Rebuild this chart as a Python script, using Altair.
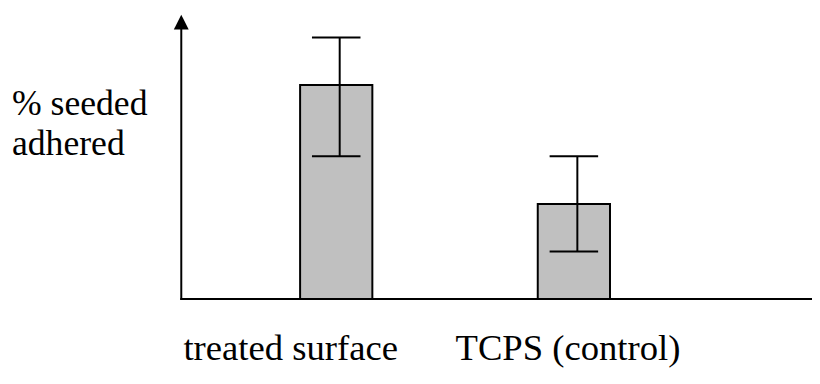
import altair as alt
import pandas as pd

categories = ["treated surface", "TCPS (control)"]
means = [75.3, 33.4]
err_low = [50.2, 16.7]
err_high = [92.0, 50.2]
y_title_lines = ["% seeded", "adhered"]

df = pd.DataFrame({"cat": categories, "mean": means, "lo": err_low, "hi": err_high})
one = pd.DataFrame({"a": [0]})

FONT = "Liberation Serif"
W, H = 637, 287

xscale = alt.Scale(domain=categories, range=[0, 553], paddingInner=0.696, paddingOuter=0.5)
yscale = alt.Scale(domain=[0, 100], nice=False, zero=True)

base = alt.Chart(df)

bars = base.mark_bar(fill="#c0c0c0", stroke="black", strokeWidth=2).encode(
    x=alt.X("cat:N", scale=xscale, axis=None, sort=categories),
    y=alt.Y("mean:Q", scale=yscale, axis=None),
)

err = base.mark_rule(color="black", strokeWidth=2).encode(
    x=alt.X("cat:N", bandPosition=0.548, sort=categories),
    y="lo:Q",
    y2="hi:Q",
)

cap_hi = base.mark_tick(color="black", thickness=2, size=49, orient="horizontal", opacity=1).encode(
    x=alt.X("cat:N", bandPosition=0.548, sort=categories),
    y="hi:Q",
)
cap_lo = base.mark_tick(color="black", thickness=2, size=49, orient="horizontal", opacity=1).encode(
    x=alt.X("cat:N", bandPosition=0.548, sort=categories),
    y="lo:Q",
)

yaxis = alt.Chart(one).mark_rule(color="black", strokeWidth=2).encode(
    x=alt.value(0), y=alt.value(14), y2=alt.value(H + 1)
)
xaxis = alt.Chart(one).mark_rule(color="black", strokeWidth=2).encode(
    x=alt.value(-1), x2=alt.value(W), y=alt.value(H)
)
arrow = alt.Chart(one).mark_point(
    shape="M-1,1L0,-1L1,1Z", filled=True, fill="black", opacity=1, size=225, strokeWidth=0
).encode(x=alt.value(0), y=alt.value(7.5))

ytitle = alt.Chart(one).mark_text(
    font=FONT, fontSize=36, align="left", baseline="alphabetic", lineHeight=41, color="black"
).encode(
    x=alt.value(-171), y=alt.value(101), text=alt.value(y_title_lines)
)

lab1 = base.transform_filter(alt.datum.cat == categories[0]).mark_text(
    font=FONT, fontSize=37, align="center", baseline="alphabetic", dx=-46, color="black"
).encode(x=alt.X("cat:N", sort=categories), y=alt.value(349), text="cat:N")
lab2 = base.transform_filter(alt.datum.cat == categories[1]).mark_text(
    font=FONT, fontSize=37, align="center", baseline="alphabetic", dx=-6, color="black"
).encode(x=alt.X("cat:N", sort=categories), y=alt.value(349), text="cat:N")

chart = alt.layer(bars, err, cap_hi, cap_lo, yaxis, xaxis, arrow, ytitle, lab1, lab2).properties(
    width=W, height=H,
    autosize=alt.AutoSizeParams(type="none"),
    padding={"left": 175, "top": 5, "right": 0, "bottom": 68},
).configure_view(stroke=None)

chart.save("out.html", embed_options={"renderer": "svg", "actions": False})
